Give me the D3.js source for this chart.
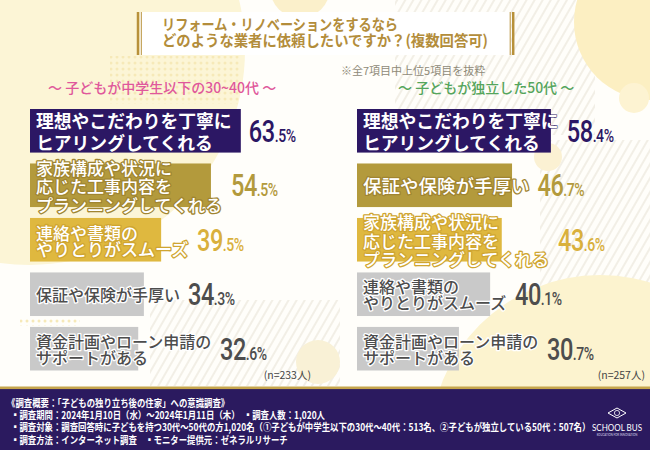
<!DOCTYPE html>
<html><head><meta charset="utf-8">
<script src="https://cdn.jsdelivr.net/npm/d3@7"></script>
<style>body{margin:0;background:#fff;} svg{display:block;}</style>
</head><body>
<svg id="c" width="650" height="450"></svg>
<script>
// ---------- data ----------
const titleLines = ["リフォーム・リノベーションをするなら", "どのような業者に依頼したいですか？(複数回答可)"];
const noteText = "※全7項目中上位5項目を抜粋";
const groupLabels = ["～ 子どもが中学生以下の30~40代 ～", "～ 子どもが独立した50代 ～"];
const leftCategories = [
  "理想やこだわりを丁寧に\nヒアリングしてくれる",
  "家族構成や状況に\n応じた工事内容を\nプランニングしてくれる",
  "連絡や書類の\nやりとりがスムーズ",
  "保証や保険が手厚い",
  "資金計画やローン申請の\nサポートがある"
];
const leftValues = [63.5, 54.5, 39.5, 34.3, 32.6];
const rightCategories = [
  "理想やこだわりを丁寧に\nヒアリングしてくれる",
  "保証や保険が手厚い",
  "家族構成や状況に\n応じた工事内容を\nプランニングしてくれる",
  "連絡や書類の\nやりとりがスムーズ",
  "資金計画やローン申請の\nサポートがある"
];
const rightValues = [58.4, 46.7, 43.6, 40.1, 30.7];
const sampleSizes = ["(n=233人)", "(n=257人)"];
const footerLines = [
  "《調査概要：「子どもの独り立ち後の住家」への意識調査》",
  "▪調査期間：2024年1月10日（水）～2024年1月11日（木）　▪調査人数：1,020人",
  "▪調査対象：調査回答時に子どもを持つ30代～50代の方1,020名（①子どもが中学生以下の30代～40代：513名、②子どもが独立している50代：507名）",
  "▪調査方法：インターネット調査　▪モニター提供元：ゼネラルリサーチ"
];
const brandName = "SCHOOL BUS";
const brandSub = "EDUCATION FOR INNOVATION";

// ---------- styles ----------
const JP = "'Noto Sans CJK JP','Noto Sans',sans-serif";
const barFill = ["#2c1764", "#b39a3c", "#dfb83f", "#c9c9c9", "#c9c9c9"];
const labelFill = ["#ffffff", "#ffffff", "#ffffff", "#4d4d4d", "#4d4d4d"];
const labelStroke = ["#2c1764", "#a08531", "#cfa531", "#ffffff", "#ffffff"];
const labelSize = [17.8, 17, 17, 16, 16];
const labelWeight = [700, 500, 500, 500, 500];
const pctFill = ["#2c1764", "#b39a3c", "#d9b03c", "#4d4d4d", "#4d4d4d"];

// width estimate (full-width glyphs = 1em, ASCII ~0.55em)
const estWidth = (s, fs) => Array.from(s).reduce((a, ch) => a + (ch.charCodeAt(0) < 0x2000 ? 0.55 : 1) * fs, 0);

const svg = d3.select("#c");
const defs = svg.append("defs");
const sp = defs.append("pattern").attr("id", "stripes").attr("width", 7).attr("height", 7)
  .attr("patternUnits", "userSpaceOnUse").attr("patternTransform", "rotate(30)");
sp.append("line").attr("x1", 1).attr("y1", 0).attr("x2", 1).attr("y2", 7)
  .attr("stroke", "#ebe7dc").attr("stroke-width", 1.3);
const dp = defs.append("pattern").attr("id", "dots").attr("width", 6).attr("height", 6)
  .attr("patternUnits", "userSpaceOnUse");
dp.append("circle").attr("cx", 3).attr("cy", 3).attr("r", 1.5).attr("fill", "#f6e9b8");

// ---------- background ----------
svg.append("rect").attr("width", 650).attr("height", 450).attr("fill", "#fffefa");
svg.append("circle").attr("cx", 30).attr("cy", 50).attr("r", 215).attr("fill", "#fcf5d6");
svg.append("circle").attr("cx", 300).attr("cy", -12).attr("r", 30).attr("fill", "#fbf0cb");
svg.append("rect").attr("x", 395).attr("y", 0).attr("width", 200).attr("height", 135).attr("fill", "url(#stripes)");
svg.append("rect").attr("x", 540).attr("y", 140).attr("width", 110).attr("height", 180).attr("fill", "url(#stripes)");
svg.append("rect").attr("x", 150).attr("y", 300).attr("width", 190).attr("height", 86).attr("fill", "url(#stripes)");
svg.append("circle").attr("cx", 600).attr("cy", 445).attr("r", 170).attr("fill", "#fcf3cf");
svg.append("circle").attr("cx", 652).attr("cy", 22).attr("r", 78).attr("fill", "#fcefc2");
svg.append("circle").attr("cx", 634).attr("cy", 98).attr("r", 15).attr("fill", "#fdf3d2");
svg.append("circle").attr("cx", 548).attr("cy", 157).attr("r", 14).attr("fill", "#fbf1d3");
svg.append("circle").attr("cx", 318).attr("cy", 362).attr("r", 22).attr("fill", "#f9f1d6");
svg.append("rect").attr("x", 110).attr("y", 56).attr("width", 130).attr("height", 48).attr("fill", "url(#dots)");
svg.append("rect").attr("x", 20).attr("y", 318).attr("width", 60).attr("height", 8).attr("fill", "url(#dots)");

// ---------- title ----------
svg.append("rect").attr("x", 140).attr("y", 12).attr("width", 371).attr("height", 43).attr("fill", "#ffffff");
[[138, 2.5], [141.3, 1], [510.2, 1], [513.2, 2.5]].forEach(([lx, w]) => {
  svg.append("line").attr("x1", lx).attr("x2", lx).attr("y1", 12).attr("y2", 55)
    .attr("stroke", "#b8913a").attr("stroke-width", w);
});
const titleLen = [236, 326];
titleLines.forEach((t, i) => {
  svg.append("text").attr("x", 162).attr("y", 30 + i * 15.5)
    .attr("font-family", JP).attr("font-size", 15).attr("font-weight", 700)
    .attr("fill", "#b38d3b").attr("textLength", titleLen[i]).attr("lengthAdjust", "spacingAndGlyphs")
    .text(t);
});
svg.append("text").attr("x", 341).attr("y", 74.5).attr("font-family", JP).attr("font-size", 11)
  .attr("fill", "#8f8a78").text(noteText);

// ---------- panels ----------
const x = d3.scaleLinear().domain([0, 100]).range([0, 332]);
const y = d3.scaleBand().domain(d3.range(5)).range([109, 370.5]).paddingInner(0.2).paddingOuter(0);

const panels = [
  {x0: 30, cats: leftCategories, vals: leftValues, label: groupLabels[0], gx: 48, gcol: "#e0589b", n: sampleSizes[0], nx: 311},
  {x0: 357, cats: rightCategories, vals: rightValues, label: groupLabels[1], gx: 398, gcol: "#55a55c", n: sampleSizes[1], nx: 645}
];

panels.forEach(p => {
  const g = svg.append("g");
  g.append("text").attr("x", p.gx).attr("y", 93).attr("font-family", JP).attr("font-size", 14)
    .attr("font-weight", 500).attr("fill", p.gcol).text(p.label);

  g.selectAll("rect.bar").data(p.vals).join("rect").attr("class", "bar")
    .attr("x", p.x0).attr("y", (d, i) => y(i))
    .attr("width", d => x(d)).attr("height", y.bandwidth())
    .attr("fill", (d, i) => barFill[i]);

  p.cats.forEach((c, i) => {
    const lines = c.split("\n");
    const fs = (lines.length === 1 && i < 3) ? 18.5 : labelSize[i];
    const lh = i === 0 ? 21.5 : (lines.length === 3 ? 18.5 : 16);
    const cy = y(i) + y.bandwidth() / 2;
    const t = g.append("text").attr("font-family", JP).attr("font-size", fs)
      .attr("font-weight", labelWeight[i]).attr("fill", labelFill[i])
      .attr("stroke", labelStroke[i]).attr("stroke-width", i === 0 ? 1 : 2.6)
      .attr("stroke-linejoin", "round").attr("paint-order", "stroke")
      .attr("dominant-baseline", "central");
    let maxW = 0;
    lines.forEach((ln, k) => {
      t.append("tspan").attr("x", p.x0 + 6)
        .attr("y", cy + (k - (lines.length - 1) / 2) * lh).text(ln);
      maxW = Math.max(maxW, estWidth(ln, fs));
    });
    const v = p.vals[i];
    const [ip, dpart] = v.toFixed(1).split(".");
    const px = Math.max(p.x0 + x(v), p.x0 + 6 + maxW) + 8;
    const pt = g.append("text").attr("transform", `translate(${px},${cy + 11}) scale(0.76,1)`)
      .attr("fill", pctFill[i]).attr("font-family", "Roboto, 'DejaVu Sans', sans-serif")
      .attr("font-weight", 500).attr("letter-spacing", -0.6);
    pt.append("tspan").attr("font-size", 31).text(ip);
    pt.append("tspan").attr("font-size", 18.5).text("." + dpart + "%");
  });

  g.append("text").attr("x", p.nx).attr("y", 379).attr("text-anchor", "end")
    .attr("font-family", JP).attr("font-size", 10.5).attr("fill", "#444").text(p.n);
});

// ---------- footer ----------
svg.append("rect").attr("x", 0).attr("y", 389).attr("width", 650).attr("height", 61).attr("fill", "#2b1a5f");
svg.append("rect").attr("x", 0).attr("y", 386.5).attr("width", 650).attr("height", 2.6).attr("fill", "#c6a54c");
const fy = [406.5, 418.5, 431, 443.5];
footerLines.forEach((t, i) => {
  svg.append("text").attr("transform", `translate(${i === 0 ? 7 : 11},${fy[i]}) scale(0.84,1)`)
    .attr("font-family", JP).attr("font-size", 10).attr("font-weight", 700)
    .attr("fill", "#ffffff").text(t);
});
// brand mark
const bx = 617, by = 413;
svg.append("path").attr("d", `M${bx - 9},${by} L${bx},${by - 5} L${bx + 9},${by} L${bx},${by + 5} Z`)
  .attr("fill", "none").attr("stroke", "#fff").attr("stroke-width", 1);
svg.append("circle").attr("cx", bx).attr("cy", by).attr("r", 2.6).attr("fill", "none").attr("stroke", "#fff").attr("stroke-width", 0.8);
svg.append("text").attr("x", 592).attr("y", 430.5)
  .attr("font-family", "Lato, 'Open Sans', sans-serif").attr("font-size", 9.5).attr("fill", "#fff")
  .attr("textLength", 50).attr("lengthAdjust", "spacingAndGlyphs").text(brandName);
svg.append("text").attr("x", bx).attr("y", 435.5).attr("text-anchor", "middle")
  .attr("font-family", "Lato, sans-serif").attr("font-size", 2.8).attr("fill", "#d8d4e8").text(brandSub);
</script>
</body></html>
